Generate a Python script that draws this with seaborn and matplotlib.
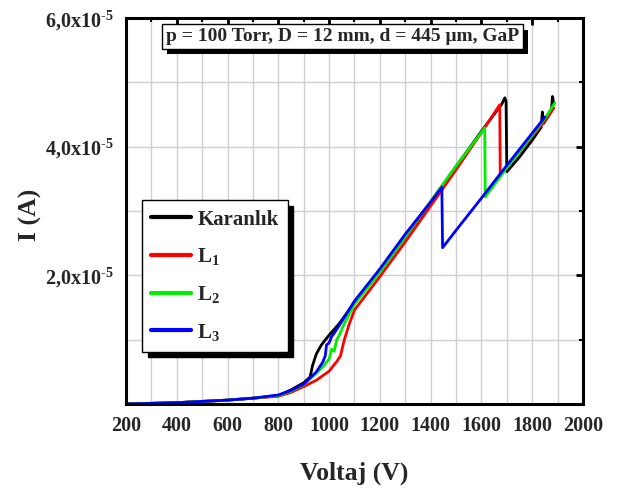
import matplotlib
matplotlib.use("Agg")
import matplotlib.pyplot as plt
import matplotlib.patheffects as pe
from matplotlib.ticker import MultipleLocator, FuncFormatter
import seaborn as sns
import numpy as np

# data (voltage in V, current in units of 1e-5 A)
v_dark = [200, 300, 400, 500, 600, 700, 800, 850, 900, 925, 935, 950, 970, 1000, 1040, 1100, 1200,
          1300, 1400, 1500, 1600, 1680, 1692, 1697, 1700, 1750, 1800, 1835, 1840, 1845, 1875, 1880, 1885]
i_dark = [0.00, 0.01, 0.02, 0.04, 0.06, 0.09, 0.13, 0.22, 0.33, 0.42, 0.60, 0.78, 0.92, 1.07, 1.25, 1.58, 2.06,
          2.60, 3.14, 3.69, 4.24, 4.66, 4.76, 4.70, 3.61, 3.84, 4.10, 4.30, 4.54, 4.36, 4.55, 4.78, 4.66]

v_l1 = [200, 300, 400, 500, 600, 700, 800, 850, 900, 950, 1000, 1030, 1045, 1060, 1080, 1100, 1150, 1200,
        1300, 1400, 1500, 1600, 1672, 1674, 1700, 1800, 1850, 1885]
i_l1 = [0.00, 0.01, 0.02, 0.04, 0.06, 0.09, 0.12, 0.18, 0.27, 0.37, 0.51, 0.66, 0.75, 1.00, 1.25, 1.46, 1.72, 1.98,
        2.52, 3.08, 3.64, 4.22, 4.65, 3.56, 3.68, 4.16, 4.40, 4.60]

v_l2 = [200, 300, 400, 500, 600, 700, 800, 850, 900, 950, 980, 1000, 1010, 1020, 1030, 1040, 1060, 1100, 1200,
        1300, 1400, 1500, 1613, 1615, 1700, 1800, 1850, 1889]
i_l2 = [0.00, 0.01, 0.02, 0.04, 0.06, 0.09, 0.13, 0.20, 0.30, 0.48, 0.60, 0.70, 0.85, 0.82, 1.00, 1.07, 1.25, 1.55, 2.05,
        2.60, 3.15, 3.70, 4.29, 3.22, 3.67, 4.18, 4.44, 4.68]

v_l3 = [200, 300, 400, 500, 600, 700, 800, 850, 900, 950, 975, 985, 990, 1000, 1010, 1020, 1040, 1100, 1200,
        1300, 1400, 1444, 1447, 1500, 1600, 1700, 1800, 1850]
i_l3 = [0.00, 0.01, 0.02, 0.04, 0.06, 0.09, 0.14, 0.21, 0.31, 0.50, 0.65, 0.75, 0.92, 0.95, 1.05, 1.10, 1.22, 1.60, 2.10,
        2.64, 3.14, 3.37, 2.43, 2.70, 3.20, 3.71, 4.21, 4.46]

labels = ["Karanlık", "L$_1$", "L$_2$", "L$_3$"]
colors = ["#000000", "#ff0000", "#00ee00", "#0000ff"]
title_text = "p = 100 Torr, D = 12 mm, d = 445 μm, GaP"

sns.set_style("white")
plt.rcParams["font.family"] = ["Liberation Serif", "DejaVu Serif"]
plt.rcParams["font.weight"] = "bold"
plt.rcParams["mathtext.fontset"] = "custom"
plt.rcParams["mathtext.rm"] = "Liberation Serif:bold"
plt.rcParams["mathtext.it"] = "Liberation Serif:bold"
plt.rcParams["mathtext.bf"] = "Liberation Serif:bold"

fig = plt.figure(figsize=(6.23, 4.92), dpi=100)
ax = fig.add_axes([0.2022, 0.1789, 0.7336, 0.7845])

series = [(v_dark, i_dark), (v_l1, i_l1), (v_l2, i_l2), (v_l3, i_l3)]
for (v, i), lab, col in zip(series, labels, colors):
    sns.lineplot(x=v, y=np.array(i) * 1e-5, ax=ax, color=col, label=lab,
                 linewidth=2, estimator=None, sort=False)

ax.set_xlim(200, 2000)
ax.set_ylim(0, 6e-5)
ax.xaxis.set_major_locator(MultipleLocator(200))
ax.xaxis.set_minor_locator(MultipleLocator(100))
ax.yaxis.set_major_locator(MultipleLocator(2e-5))
ax.yaxis.set_minor_locator(MultipleLocator(1e-5))


def yfmt(val, pos):
    if abs(val) < 1e-9:
        return ""
    return r"%d,0x10$^{\text{-5}}$" % round(val * 1e5)


ax.yaxis.set_major_formatter(FuncFormatter(yfmt))
ax.grid(True, which="both", color="#d0d0d0", linewidth=1)
ax.set_axisbelow(True)

for s in ax.spines.values():
    s.set_linewidth(2.2)
    s.set_color("black")

ax.tick_params(axis="both", which="major", labelsize=14.5, width=2, length=5, color="black")
ax.tick_params(axis="both", which="minor", width=1.5, length=3, color="black")
ax.tick_params(axis="x", which="both", direction="out", top=True)
ax.tick_params(axis="y", which="both", direction="out", right=True)
for t in ax.xaxis.get_major_ticks() + ax.xaxis.get_minor_ticks():
    t.tick2line.set_marker(matplotlib.lines.TICKDOWN)
for t in ax.yaxis.get_major_ticks() + ax.yaxis.get_minor_ticks():
    t.tick2line.set_marker(matplotlib.lines.TICKLEFT)
for lab in ax.get_xticklabels() + ax.get_yticklabels():
    lab.set_fontweight("bold")

ax.set_xlabel("Voltaj (V)", fontsize=18.5, fontweight="bold")
ax.set_ylabel("I (A)", fontsize=18.5, fontweight="bold")
ax.xaxis.set_label_coords(0.5, -0.148)
ax.yaxis.set_label_coords(-0.183, 0.49)

leg = ax.legend(loc="upper left", bbox_to_anchor=(0.035, 0.528), borderaxespad=0,
                frameon=True, fancybox=False, edgecolor="black", framealpha=1,
                prop={"size": 15, "weight": "bold"}, handlelength=1.9, handletextpad=0.3,
                labelspacing=0.8, borderpad=0.45,
                shadow={"color": "black", "ox": 4, "oy": -4, "alpha": 1})
leg.get_frame().set_linewidth(1)
for line in leg.get_lines():
    line.set_linewidth(3)

txt = ax.text(0.473, 0.952, title_text, transform=ax.transAxes, ha="center", va="center",
              fontsize=14, fontweight="bold",
              bbox=dict(boxstyle="square,pad=0.2", facecolor="white", edgecolor="black", linewidth=1))
txt.get_bbox_patch().set_path_effects([
    pe.withSimplePatchShadow(offset=(4, -4), shadow_rgbFace="black", alpha=1)])

fig.savefig("out.png", dpi=100)
